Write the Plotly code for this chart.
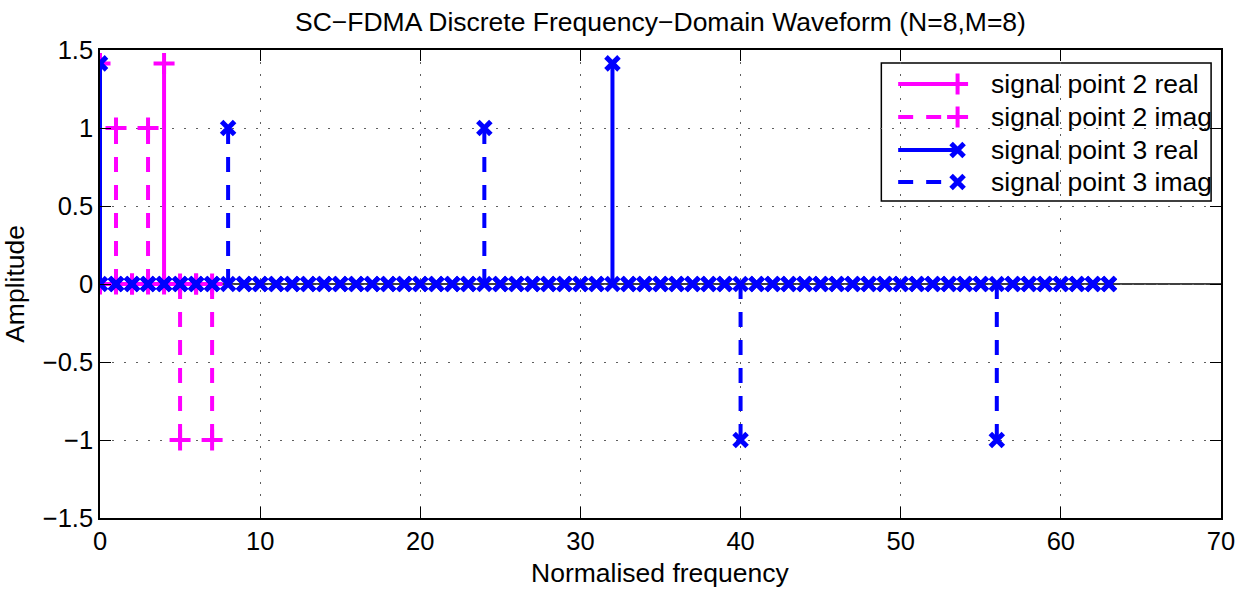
import plotly.graph_objects as go

# ---------------- data ----------------
k2 = [0, 1, 2, 3, 4, 5, 6, 7]
sp2_real = [1.4142, 0, 0, 0, 1.4142, 0, 0, 0]
sp2_imag = [0, 1, 0, 1, 0, -1, 0, -1]

k3 = list(range(64))
sp3_real = [1.4142, 0, 0, 0, 0, 0, 0, 0, 0, 0, 0, 0, 0, 0, 0, 0,
            0, 0, 0, 0, 0, 0, 0, 0, 0, 0, 0, 0, 0, 0, 0, 0,
            1.4142, 0, 0, 0, 0, 0, 0, 0, 0, 0, 0, 0, 0, 0, 0, 0,
            0, 0, 0, 0, 0, 0, 0, 0, 0, 0, 0, 0, 0, 0, 0, 0]
sp3_imag = [0, 0, 0, 0, 0, 0, 0, 0, 1, 0, 0, 0, 0, 0, 0, 0,
            0, 0, 0, 0, 0, 0, 0, 0, 1, 0, 0, 0, 0, 0, 0, 0,
            0, 0, 0, 0, 0, 0, 0, 0, -1, 0, 0, 0, 0, 0, 0, 0,
            0, 0, 0, 0, 0, 0, 0, 0, -1, 0, 0, 0, 0, 0, 0, 0]

series_names = ["signal point 2 real", "signal point 2 imag",
                "signal point 3 real", "signal point 3 imag"]
x_ticks = [0, 10, 20, 30, 40, 50, 60, 70]
y_ticks = [-1.5, -1, -0.5, 0, 0.5, 1, 1.5]

MAG = "#ff00ff"
BLU = "#0000ff"
DASH = "15px,13px"

series = [
    (k2, sp2_real, MAG, "solid", "cross-thin", 15, 4),
    (k2, sp2_imag, MAG, DASH, "cross-thin", 15, 4),
    (k3, sp3_real, BLU, "solid", "x-thin", 13, 5),
    (k3, sp3_imag, BLU, DASH, "x-thin", 13, 5),
]

fig = go.Figure()

for xs, ys, col, dash, sym, msize, mlw in series:
    sx, sy = [], []
    for xv, yv in zip(xs, ys):
        if yv != 0:
            sx += [xv, xv, None]
            sy += [0, yv, None]
    fig.add_trace(go.Scatter(x=sx, y=sy, mode="lines",
                             line=dict(color=col, width=4, dash=dash),
                             showlegend=False, hoverinfo="skip"))
    fig.add_trace(go.Scatter(x=xs, y=ys, mode="markers",
                             marker=dict(symbol=sym, size=msize,
                                         color=col, line=dict(color=col, width=mlw)),
                             showlegend=False))

# ---------------- custom MATLAB-style legend (pixel overlay axes) ----------------
PL, PR, PT, PB = 100, 1232, 50, 518
W, H = 1247, 589
L_left, L_right, L_top, L_bot = 889, 1222, 63, 201
row_y = [84, 117, 150, 182]
font_family = "Liberation Sans, Arial, Helvetica, sans-serif"
for name, (xs, ys, col, dash, sym, msize, mlw), ry in zip(series_names, series, row_y):
    fig.add_trace(go.Scatter(x=[906, 966], y=[ry, ry], mode="lines",
                             line=dict(color=col, width=4, dash=dash),
                             xaxis="x2", yaxis="y2", showlegend=False, hoverinfo="skip"))
    fig.add_trace(go.Scatter(x=[966], y=[ry], mode="markers",
                             marker=dict(symbol=sym, size=msize, color=col,
                                         line=dict(color=col, width=mlw)),
                             xaxis="x2", yaxis="y2", showlegend=False, hoverinfo="skip"))
    fig.add_annotation(x=998, y=ry, xref="x2", yref="y2", text=name,
                       showarrow=False, xanchor="left", yanchor="middle",
                       font=dict(size=26.5, color="black", family=font_family))

# legend box (white, hides grid) in paper coordinates of the plot area
fig.add_shape(type="rect", xref="paper", yref="paper",
              x0=(L_left - PL) / (PR - PL), x1=(L_right - PL) / (PR - PL),
              y0=(PB - L_bot) / (PB - PT), y1=(PB - L_top) / (PB - PT),
              line=dict(color="black", width=1.5), fillcolor="white", layer="between")

# stem baseline
fig.add_shape(type="line", xref="paper", yref="y", x0=0, x1=1, y0=0, y1=0,
              line=dict(color="black", width=1.5), layer="between")

# titles as annotations for exact placement
fig.add_annotation(xref="paper", yref="paper", x=0.5, y=(PB - 22) / (PB - PT),
                   text="SC\u2212FDMA Discrete Frequency\u2212Domain Waveform (N=8,M=8)",
                   showarrow=False, xanchor="center", yanchor="middle",
                   font=dict(size=26.5, family=font_family, color="black"))
fig.add_annotation(xref="paper", yref="paper", x=0.5, y=(PB - 573) / (PB - PT),
                   text="Normalised frequency",
                   showarrow=False, xanchor="center", yanchor="middle",
                   font=dict(size=26.5, family=font_family, color="black"))
fig.add_annotation(xref="paper", yref="paper", x=(14 - PL) / (PR - PL), y=(PB - 284) / (PB - PT),
                   text="Amplitude", textangle=-90,
                   showarrow=False, xanchor="center", yanchor="middle",
                   font=dict(size=26.5, family=font_family, color="black"))

grid_common = dict(showgrid=True, gridcolor="#606060", griddash="1.5px,10.5px", gridwidth=1,
                   zeroline=False, showline=True, linecolor="black", linewidth=1.5,
                   mirror="ticks", ticks="inside", ticklen=11, tickwidth=1.2,
                   tickcolor="black", tickfont=dict(size=25.5, family=font_family, color="black"))

fig.update_layout(
    width=W, height=H,
    margin=dict(l=PL, r=W - PR, t=PT, b=H - PB),
    paper_bgcolor="white", plot_bgcolor="white",
    font=dict(family=font_family, size=25.5, color="black"),
    xaxis=dict(range=[0, 70], tickvals=x_ticks, **grid_common),
    yaxis=dict(range=[-1.5, 1.5], tickvals=y_ticks, **grid_common),
    xaxis2=dict(overlaying="x", range=[PL, PR], visible=False),
    yaxis2=dict(overlaying="y", range=[PB, PT], visible=False),
    showlegend=False,
)

fig.write_html("out.html")
